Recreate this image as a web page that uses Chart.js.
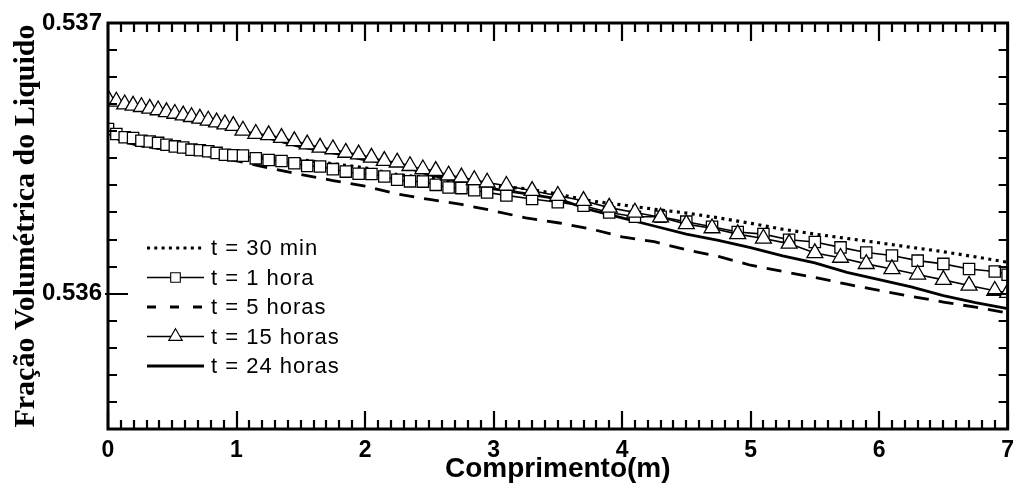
<!DOCTYPE html>
<html lang="pt">
<head>
<meta charset="utf-8">
<title>Fração volumétrica do líquido</title>
<script src="https://cdn.jsdelivr.net/npm/chart.js@4/dist/chart.umd.min.js"></script>
<style>
    html, body { margin: 0; padding: 0; background: #fff; }
    canvas { display: block; }
</style>
</head>
<body>
<canvas id="perfil" width="1022" height="485"></canvas>
<script>
// Comprimento (m) dos pontos com símbolo (malha mais fina no início do duto)
const xMarcas = [0, 0.065, 0.13, 0.195, 0.26, 0.325, 0.39, 0.455, 0.52, 0.585, 0.65, 0.715, 0.78, 0.845, 0.91, 0.975,
                 1.05, 1.15, 1.25, 1.35, 1.45, 1.55, 1.65, 1.75, 1.85, 1.95, 2.05, 2.15, 2.25, 2.35, 2.45, 2.55, 2.65, 2.75, 2.85, 2.95,
                 3.1, 3.3, 3.5, 3.7, 3.9, 4.1, 4.3, 4.5, 4.7, 4.9, 5.1, 5.3, 5.5, 5.7, 5.9, 6.1, 6.3, 6.5, 6.7, 6.9, 7.0];

// Comprimento (m) das curvas sem símbolo
const xLinha  = [0, 0.1, 0.25, 0.5, 0.75, 1, 1.25, 1.5, 1.75, 2, 2.25, 2.5, 2.75, 3, 3.25, 3.5, 3.75,
                 4, 4.25, 4.5, 4.75, 5, 5.25, 5.5, 5.75, 6, 6.25, 6.5, 6.75, 7];

const y30min  = [0.536600, 0.536563, 0.536547, 0.536530, 0.536515, 0.536505, 0.536505, 0.536495, 0.536480, 0.536465,
                 0.536440, 0.536428, 0.536410, 0.536398, 0.536388, 0.536368, 0.536343, 0.536328, 0.536312, 0.536298,
                 0.536280, 0.536260, 0.536238, 0.536220, 0.536204, 0.536188, 0.536171, 0.536155, 0.536136, 0.536116];

const y1hora  = [0.536608, 0.536590, 0.536578, 0.536575, 0.536565, 0.536562, 0.536557, 0.536550, 0.536544, 0.536540,
                 0.536532, 0.536530, 0.536526, 0.536520, 0.536513, 0.536511, 0.536510, 0.536500, 0.536494, 0.536490,
                 0.536482, 0.536472, 0.536470, 0.536460, 0.536451, 0.536443, 0.536442, 0.536433, 0.536421, 0.536415,
                 0.536414, 0.536402, 0.536392, 0.536390, 0.536382, 0.536374, 0.536363, 0.536350, 0.536338, 0.536325,
                 0.536300, 0.536284, 0.536284, 0.536266, 0.536247, 0.536228, 0.536220, 0.536199, 0.536191, 0.536171,
                 0.536152, 0.536141, 0.536122, 0.536110, 0.536091, 0.536082, 0.536070];

const y5horas = [0.536600, 0.536563, 0.536547, 0.536530, 0.536512, 0.536491, 0.536464, 0.536440, 0.536418, 0.536397,
                 0.536368, 0.536348, 0.536330, 0.536306, 0.536280, 0.536262, 0.536240, 0.536210, 0.536192, 0.536162,
                 0.536138, 0.536105, 0.536082, 0.536060, 0.536035, 0.536012, 0.535990, 0.535969, 0.535950, 0.535929];

const y15horas = [0.536720, 0.536710, 0.536700, 0.536695, 0.536690, 0.536684, 0.536678, 0.536671, 0.536665, 0.536659,
                  0.536653, 0.536647, 0.536640, 0.536633, 0.536626, 0.536620, 0.536603, 0.536591, 0.536586, 0.536576,
                  0.536564, 0.536552, 0.536540, 0.536534, 0.536521, 0.536515, 0.536503, 0.536491, 0.536485, 0.536472,
                  0.536460, 0.536454, 0.536437, 0.536430, 0.536420, 0.536411, 0.536399, 0.536380, 0.536362, 0.536343,
                  0.536318, 0.536300, 0.536282, 0.536257, 0.536242, 0.536220, 0.536204, 0.536185, 0.536150, 0.536133,
                  0.536110, 0.536091, 0.536071, 0.536051, 0.536030, 0.536011, 0.536003];

const y24horas = [0.536720, 0.536706, 0.536680, 0.536653, 0.536628, 0.536605, 0.536575, 0.536542, 0.536520, 0.536494,
                  0.536478, 0.536439, 0.536414, 0.536387, 0.536370, 0.536350, 0.536310, 0.536280, 0.536250, 0.536220,
                  0.536197, 0.536170, 0.536140, 0.536114, 0.536079, 0.536052, 0.536025, 0.535993, 0.535967, 0.535945];

const yRotulos = [0.536, 0.537];

const pts = (xs, ys) => xs.map((x, i) => ({ x, y: ys[i] }));

const SANS  = '"Liberation Sans", Arial, Helvetica, sans-serif';
const SERIF = '"Liberation Serif", "Times New Roman", serif';

Chart.defaults.font.family = SANS;
Chart.defaults.color = '#000';

const datasets = [
    { label: 't = 30 min',   data: pts(xLinha, y30min),    borderWidth: 3.2, borderDash: [3, 4.5], legendDash: [3, 4.3], pointRadius: 0, order: 2 },
    { label: 't = 1 hora',   data: pts(xMarcas, y1hora),   borderWidth: 1.6, pointStyle: 'rect',     pointRadius: 8,   order: 1 },
    { label: 't = 5 horas',  data: pts(xLinha, y5horas),   borderWidth: 2.8, borderDash: [15, 10], legendDash: [9, 14],  pointRadius: 0, order: 4 },
    { label: 't = 15 horas', data: pts(xMarcas, y15horas), borderWidth: 1.6, pointStyle: 'triangle', pointRadius: 9.2, order: 0 },
    { label: 't = 24 horas', data: pts(xLinha, y24horas),  borderWidth: 2.8, pointRadius: 0, order: 3 },
].map(ds => ({
    borderColor: '#000',
    pointBackgroundColor: '#fff',
    pointBorderColor: '#000',
    pointBorderWidth: 1.3,
    tension: 0,
    ...ds,
}));

// moldura com marcas de escala voltadas para dentro, nos quatro lados
const moldura = {
    id: 'moldura',
    afterDatasetsDraw(chart) {
        const { ctx, chartArea: a, scales: { x, y } } = chart;
        ctx.save();
        ctx.strokeStyle = '#000';
        ctx.lineWidth = 2.2;
        ctx.beginPath();
        for (let i = 0; i <= 70; i++) {
            const px  = Math.round(x.getPixelForValue(i / 10));
            const len = i % 10 === 0 ? 18 : 9;
            ctx.moveTo(px, a.bottom); ctx.lineTo(px, a.bottom - len);
            ctx.moveTo(px, a.top);    ctx.lineTo(px, a.top + len);
        }
        for (let i = 0; i <= 15; i++) {
            const v   = 0.5355 + i * 0.0001;
            const py  = Math.round(y.getPixelForValue(v));
            const len = i === 5 ? 20 : 9;
            ctx.moveTo(a.left - (i === 5 ? 3 : 0), py); ctx.lineTo(a.left + len, py);
            ctx.moveTo(a.right, py); ctx.lineTo(a.right - len, py);
        }
        ctx.stroke();
        ctx.lineWidth = 3;
        ctx.strokeRect(a.left, a.top, a.right - a.left, a.bottom - a.top);
        ctx.restore();
    }
};

// legenda dentro da área do gráfico, com amostra de linha e símbolo
const legenda = {
    id: 'legenda',
    afterDraw(chart) {
        const { ctx, chartArea: a } = chart;
        const x0 = a.left + 39, x1 = a.left + 96, tx = a.left + 103;
        chart.data.datasets.forEach((ds, i) => {
            const yy = a.top + 225 + i * 29.5;
            ctx.save();
            ctx.strokeStyle = '#000';
            ctx.lineWidth = ds.borderWidth;
            ctx.setLineDash(ds.legendDash || []);
            ctx.beginPath();
            ctx.moveTo(x0, yy);
            ctx.lineTo(x1, yy);
            ctx.stroke();
            ctx.setLineDash([]);
            if (ds.pointRadius > 0) {
                ctx.fillStyle = '#fff';
                ctx.lineWidth = 1.1;
                Chart.helpers.drawPoint(ctx, {
                    pointStyle: ds.pointStyle, radius: ds.pointRadius * 0.85, rotation: 0, borderWidth: 1.1
                }, (x0 + x1) / 2, yy);
            }
            ctx.fillStyle = '#000';
            ctx.font = `22px ${SANS}`;
            ctx.textBaseline = 'middle';
            ctx.letterSpacing = '1px';
            ctx.fillText(ds.label, tx, yy + 1);
            ctx.restore();
        });
    }
};

new Chart(document.getElementById('perfil'), {
    type: 'line',
    data: { datasets },
    options: {
        responsive: false,
        animation: false,
        devicePixelRatio: 1,
        layout: { padding: { top: 23, right: 5, left: 0, bottom: 0 } },
        plugins: { legend: { display: false }, tooltip: { enabled: false } },
        scales: {
            x: {
                type: 'linear',
                min: 0,
                max: 7,
                afterFit: s => { s.height = 56; },
                grid: { display: false, drawTicks: false },
                border: { display: false },
                ticks: { stepSize: 1, padding: 8, font: { size: 23, weight: 'bold' } },
                title: {
                    display: true,
                    text: 'Comprimento(m)',
                    padding: { top: 0, bottom: -1 },
                    font: { size: 28, weight: 'bold' }
                }
            },
            y: {
                type: 'linear',
                min: 0.5355,
                max: 0.537,
                afterFit: s => { s.width = 108; },
                afterBuildTicks: s => { s.ticks = yRotulos.map(v => ({ value: v })); },
                grid: { display: false, drawTicks: false },
                border: { display: false },
                ticks: { padding: 6, callback: v => v.toFixed(3), font: { size: 24, weight: 'bold' } },
                title: {
                    display: true,
                    text: 'Fração Volumétrica do Liquido',
                    padding: { top: 8, bottom: 0 },
                    font: { family: SERIF, size: 30, weight: 'bold' }
                }
            }
        }
    },
    plugins: [moldura, legenda]
});
</script>
</body>
</html>
